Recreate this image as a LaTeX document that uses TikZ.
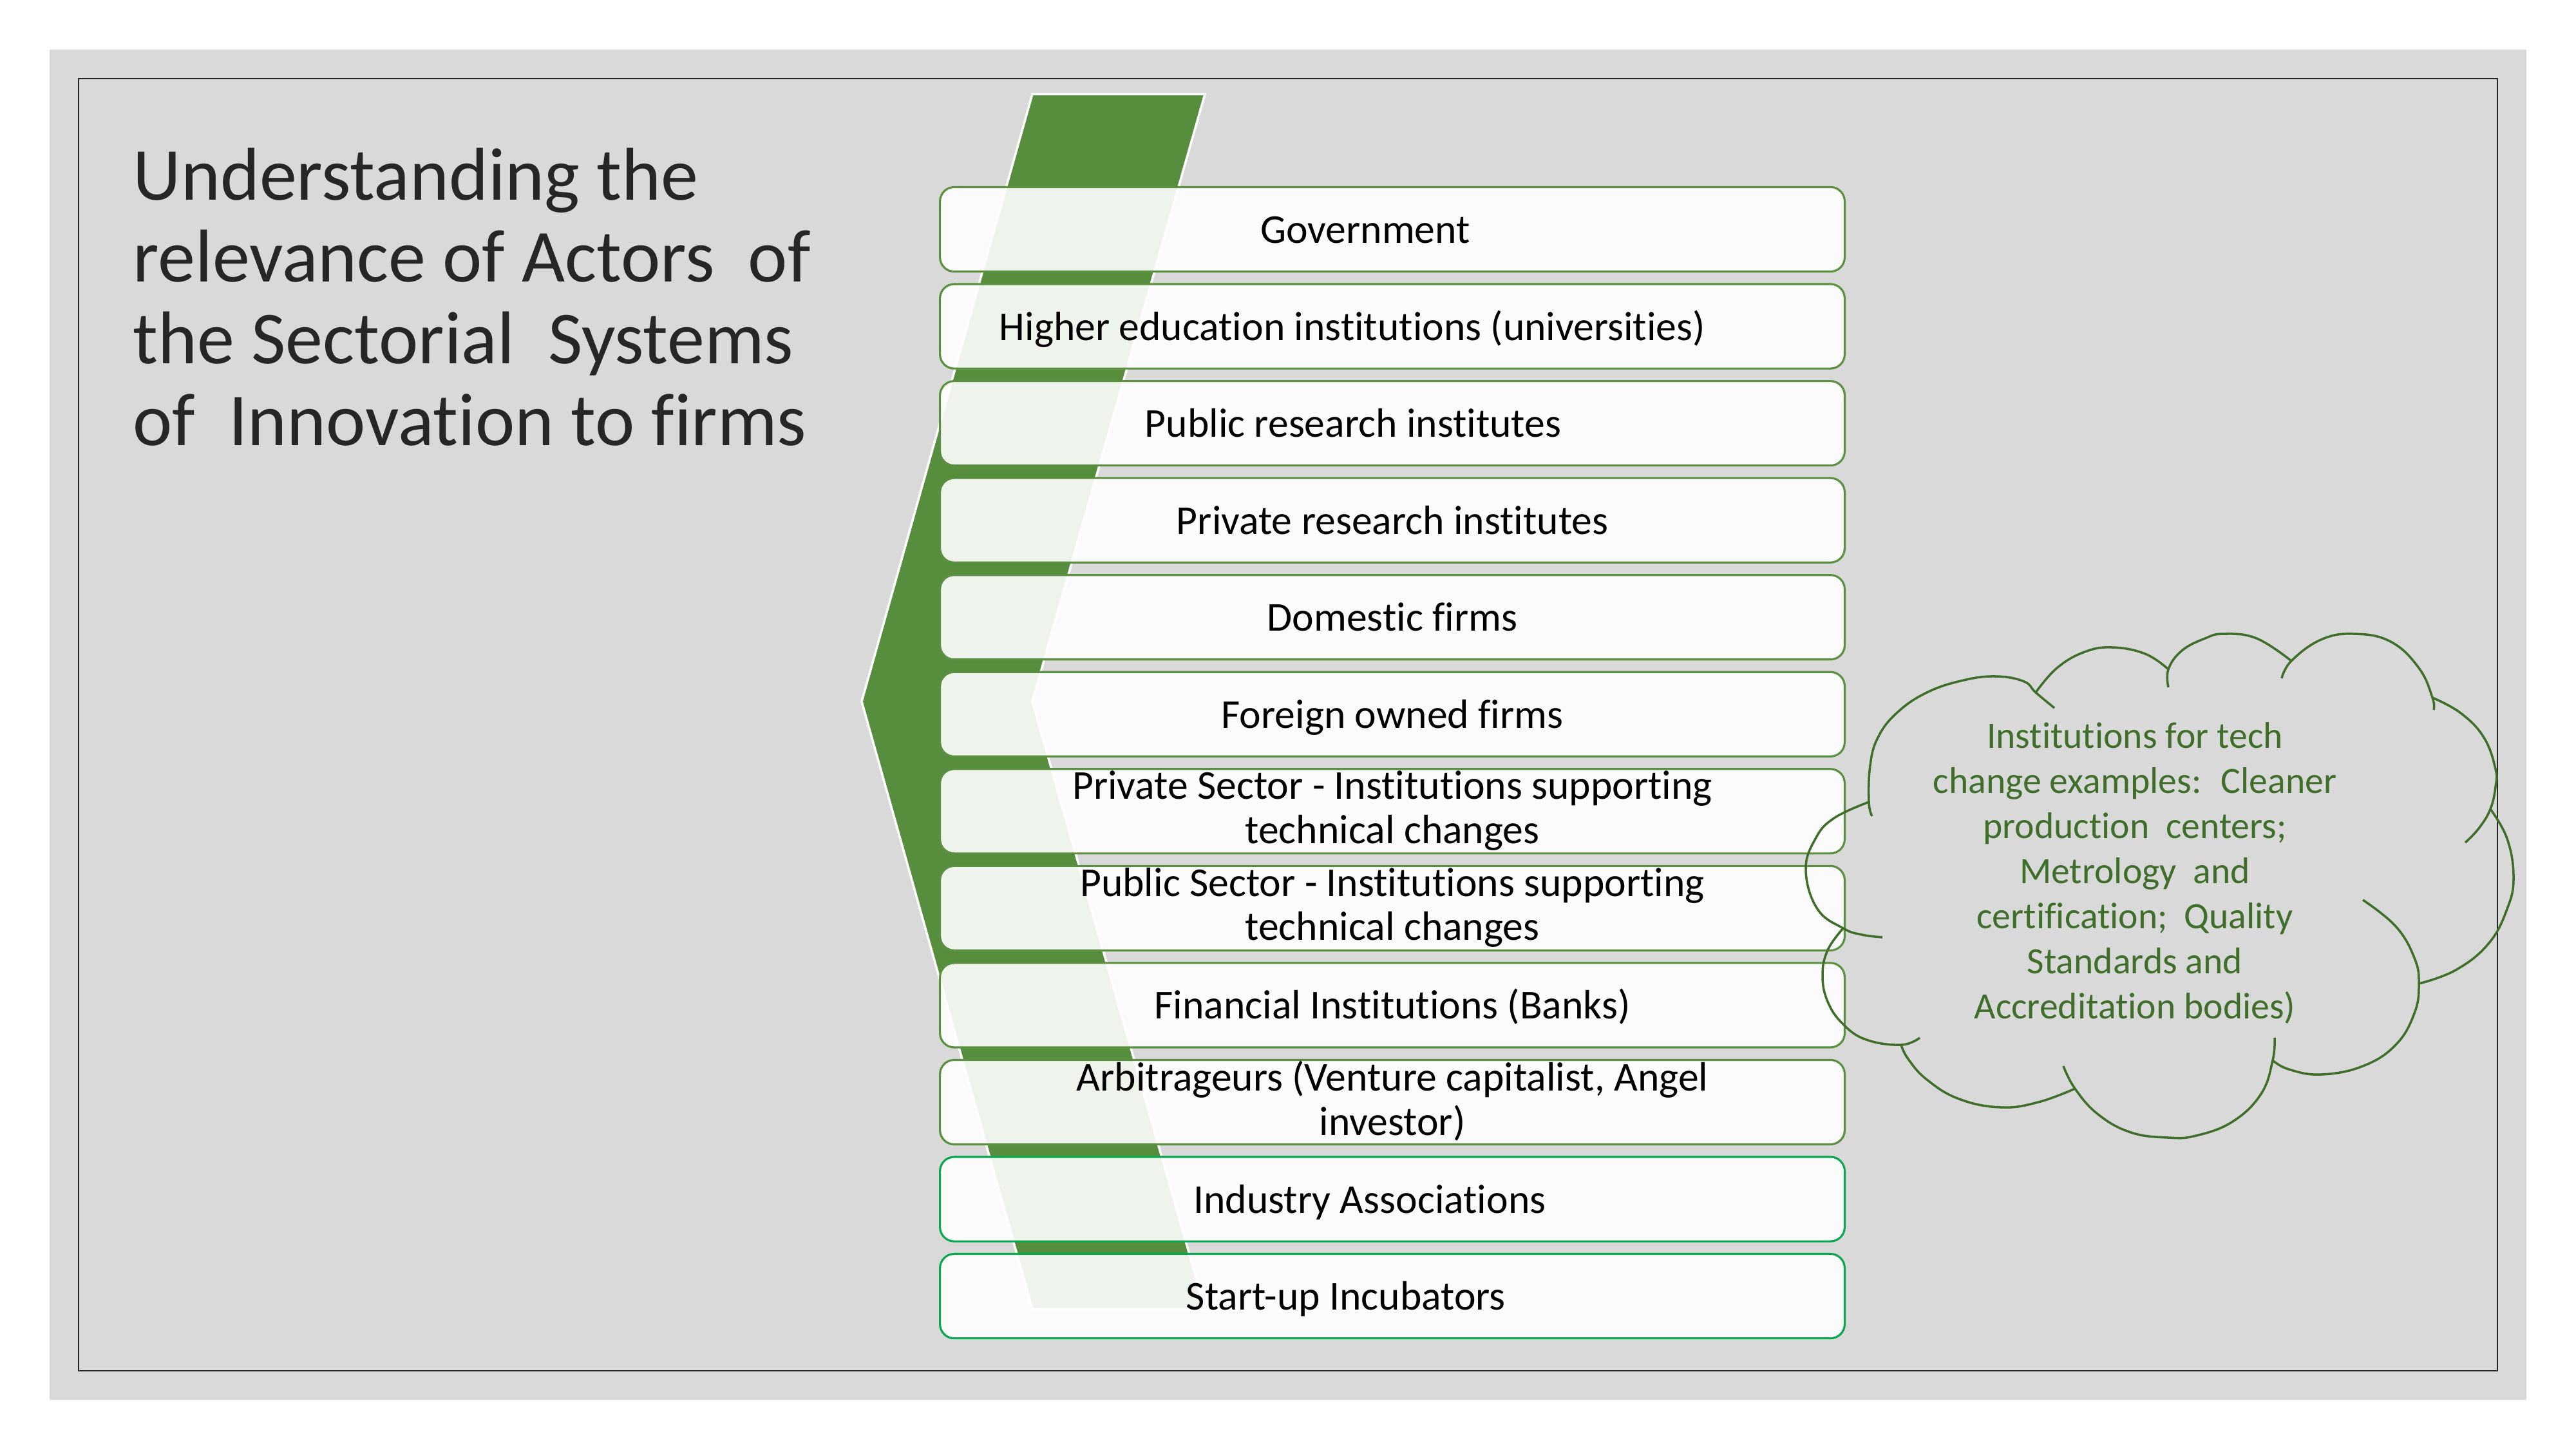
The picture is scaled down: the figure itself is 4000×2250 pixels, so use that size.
\documentclass[tikz,border=0pt]{standalone}
\usepackage{fontspec}
\setmainfont{Carlito}[Ligatures=NoCommon]
\usepackage{tikz}
\usetikzlibrary{positioning,calc}
\definecolor{slidegray}{HTML}{D9D9D9}
\definecolor{leafgreen}{HTML}{568E3D}
\definecolor{edgegreen}{HTML}{5B9040}
\definecolor{brightgreen}{HTML}{0DA650}
\definecolor{mossgreen}{HTML}{3F6E2A}
\definecolor{titlegray}{HTML}{262626}
\newcommand{\actorstrut}{\rule[-0.125cm]{0pt}{0.68cm}}

\begin{document}
\begin{tikzpicture}[x=0.01cm,y=-0.01cm,
  node distance=1.63mm,
  actor/.style={draw=edgegreen,line width=0.9pt,fill=white,fill opacity=0.9,
    text opacity=1,rounded corners=2.2mm,minimum width=14.04cm,
    minimum height=13.1mm,inner ysep=-0.035cm,align=center,
    font=\fontsize{18.1}{19.35}\selectfont,
    execute at begin node=\actorstrut,execute at end node=\actorstrut},
  support/.style={actor,draw=brightgreen},
  shl/.style={execute at end node={\hspace*{#1}\actorstrut}},
  puff/.style={draw=mossgreen,line width=1pt}
]
\useasboundingbox (0,0) rectangle (4000,2250);
\fill[slidegray] (77,77) rectangle (3923,2173);
\draw[titlegray,line width=0.7pt] (122,122) rectangle (3878,2128);

\node[font=\fontsize{33}{36.1}\selectfont,text=titlegray,align=left,
  anchor=base west,inner sep=0pt] (title) at (206,691)
  {Understanding the\\relevance of Actors~ of\\the Sectorial~ Systems\\of~ Innovation to firms};

\filldraw[fill=leafgreen,draw=white,line width=1pt]
  (1603,146) -- (1871,146) -- (1603,1089) -- (1871,2032) -- (1603,2032)
  -- (1338,1089) -- cycle;

\node[actor,shl=0.84cm] (gov) at (2162,356) {Government};
\node[actor,shl=1.24cm,below=of gov] (hei) {Higher education institutions (universities)};
\node[actor,shl=1.22cm,below=of hei] (pubri) {Public research institutes};
\node[actor,below=of pubri] (privri) {Private research institutes};
\node[actor,below=of privri] (domfirm) {Domestic firms};
\node[actor,below=of domfirm] (forfirm) {Foreign owned firms};
\node[actor,below=of forfirm] (privsec) {Private Sector - Institutions supporting\\technical changes};
\node[actor,below=of privsec] (pubsec) {Public Sector - Institutions supporting\\technical changes};
\node[actor,below=of pubsec] (fininst) {Financial Institutions (Banks)};
\node[actor,below=of fininst] (arbit) {Arbitrageurs (Venture capitalist, Angel\\investor)};
\node[support,shl=0.7cm,below=of arbit] (indassoc) {Industry Associations};
\node[support,shl=1.44cm,below=of indassoc] (incub) {Start-up Incubators};

\draw[puff] plot[smooth,tension=0.7] coordinates {(2907,1267) (2902,1245) (2904,1188) (2916,1145) (2945,1107) (2992,1075) (3049,1056) (3100,1050) (3143,1058) (3161,1075) (3190,1099)};
\draw[puff] plot[smooth,tension=0.7] coordinates {(3161,1075) (3194,1037) (3237,1012) (3280,1005) (3331,1015) (3367,1039)};
\draw[puff] plot[smooth,tension=0.7] coordinates {(3367,1067) (3367,1039) (3388,1010) (3424,991) (3453,984) (3504,991) (3558,1026)};
\draw[puff] plot[smooth,tension=0.7] coordinates {(3543,1053) (3558,1026) (3604,993) (3655,984) (3712,996) (3756,1037) (3777,1083) (3779,1102)};
\draw[puff] plot[smooth,tension=0.7] coordinates {(3777,1083) (3821,1107) (3857,1145) (3875,1194) (3875,1221) (3867,1256) (3849,1286) (3828,1308)};
\draw[puff] plot[smooth,tension=0.7] coordinates {(3867,1256) (3893,1302) (3903,1362) (3893,1411) (3864,1465) (3813,1506) (3756,1527)};
\draw[puff] plot[smooth,tension=0.7] coordinates {(3669,1397) (3720,1438) (3749,1487) (3756,1527) (3749,1573) (3720,1622) (3669,1655) (3604,1668) (3554,1660) (3529,1646)};
\draw[puff] plot[smooth,tension=0.7] coordinates {(3532,1611) (3529,1646) (3511,1698) (3467,1741) (3410,1763) (3367,1766) (3309,1758) (3258,1730) (3222,1690) (3204,1655)};
\draw[puff] plot[smooth,tension=0.7] coordinates {(3222,1690) (3165,1711) (3107,1719) (3042,1706) (2992,1676) (2963,1644) (2952,1622)};
\draw[puff] plot[smooth,tension=0.7] coordinates {(2981,1611) (2952,1622) (2898,1614) (2862,1590) (2838,1555) (2830,1514) (2838,1475) (2862,1441)};
\draw[puff] plot[smooth,tension=0.7] coordinates {(2923,1455) (2891,1451) (2862,1441) (2822,1411) (2804,1351) (2819,1302) (2848,1270) (2902,1245)};

\node[font=\fontsize{16.4}{19.9}\selectfont,text=mossgreen,align=center,
  anchor=base,inner sep=0pt] (cloudtext) at (3315,1581)
  {Institutions for tech\\change examples:~ Cleaner\\production~ centers;\\Metrology~ and\\certification;~ Quality\\Standards and\\Accreditation bodies)};
\end{tikzpicture}
\end{document}
